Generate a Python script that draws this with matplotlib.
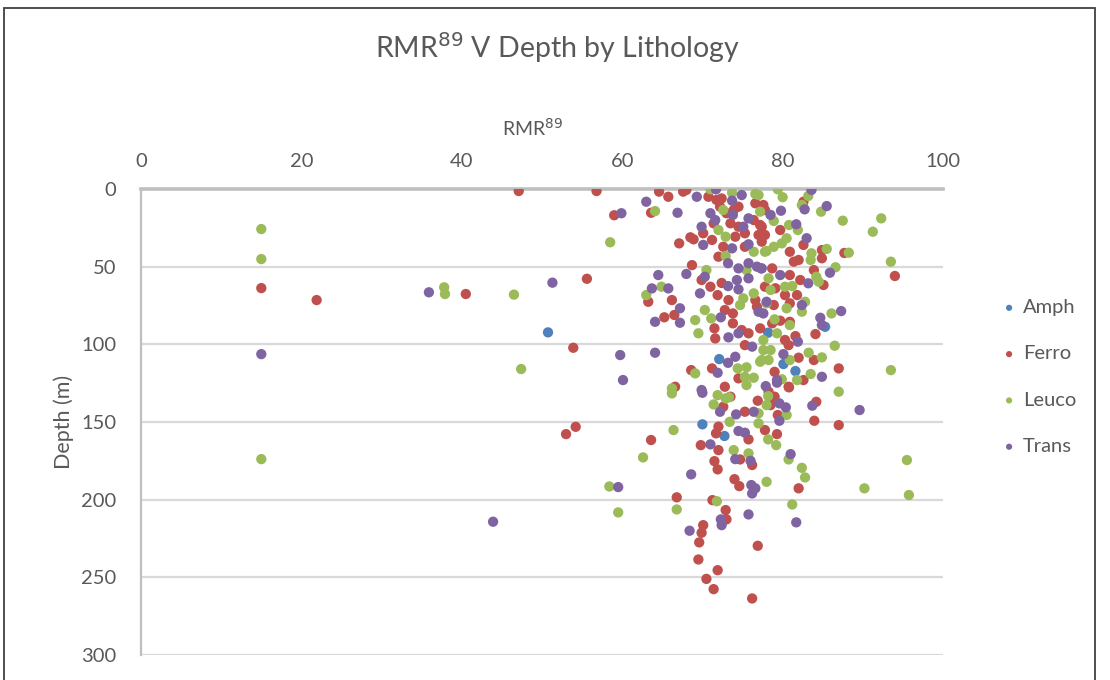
import matplotlib.pyplot as plt
from matplotlib.patches import Rectangle

plt.rcParams['font.family'] = ['Lato', 'DejaVu Sans']

# RMR89 (x) and depth in m (y) per lithology
amph_rmr = [50.75, 72.1, 78.2, 80.1, 81.6, 85.3, 70.0, 72.75]
amph_depth = [92.3, 109.5, 92.5, 112.7, 117.2, 88.7, 151.5, 159]

ferro_rmr = [47.1, 56.8, 59, 55.6, 40.5, 21.9, 15, 53.9, 53, 54.2, 94, 87, 87,
             64.6, 65.75, 67.6, 68, 70.75, 63.6, 67.1, 68.5, 68.9, 70.1, 71.2, 68.7, 69.9, 71,
             72, 72.6, 71.4, 72.2, 73, 74.5, 74.5, 75.3, 75.3, 74.1, 76.6, 77.4, 72.4, 73.5,
             71.75, 73.9, 76.4, 77,
             77.8, 77.2, 77.8, 79.7, 80.9, 82, 81.4, 82.6, 84.9, 84.9, 87.7, 78.7, 80.9, 83.9,
             82.2, 85.1, 82.6, 77.6, 77.4,
             63.25, 66.2, 65.25, 66.5, 71.9, 73.25, 72.8, 73.8, 73.8, 71.5, 71.6, 74.9, 75.75,
             75.3, 76.8, 68.6, 71.2, 74.5, 72.8, 66.6, 72.4, 76.6,
             79.1, 80.3, 78.9, 80.9, 81.8, 78.7, 79.7, 80.9, 77.2, 81.6, 84.1, 80.3, 80.75, 82,
             83.9, 79, 82.6, 80.75, 77.8,
             73.5, 72.6, 76.9, 75.3, 72, 71.7, 75.75, 63.6, 69.8, 72, 71.5, 71.9, 74.7, 76.2,
             74, 74.6, 77.8, 78.25,
             80.8, 79, 78.5, 79.4, 84.2, 83.95, 79.3, 82,
             66.8, 71.25, 72.9, 73, 70.1, 69.9, 69.6, 76.9, 69.5, 71.9, 70.5, 71.4, 76.2]
ferro_depth = [1.3, 1.3, 16.9, 57.8, 67.6, 71.5, 63.8, 102.2, 157.8, 153.1, 56, 115.5, 152,
               1.7, 5, 1.7, 0.6, 5, 15.3, 35, 31.1, 32.4, 28.5, 32.8, 49, 58.6, 62.9,
               43.6, 37.2, 22.1, 11.4, 15.6, 11.4, 24.3, 28.5, 37.2, 30.7, 9.2, 24.3, 6.1, 22.1,
               7, 13.5, 20, 29.6,
               13.5, 23.2, 29.6, 26.4, 40.4, 45.7, 46.8, 36, 44.6, 39.3, 41.2, 51.1, 55.4, 52.2,
               58.6, 61.8, 8.2, 10.3, 33.9,
               72.6, 71.5, 82.6, 81.1, 68.3, 71.5, 77.9, 80.1, 86.5, 89.7, 96.2, 90.8, 92.9,
               100.5, 75.8, 116.6, 115.5, 121.9, 127.3, 127.3, 60.5, 71.5,
               63.9, 68.3, 74.7, 73.6, 68.3, 86.5, 84.8, 85.5, 89.7, 94.7, 93.4, 97.2, 100.5, 108.6,
               110.1, 117.7, 123, 127.3, 62.9,
               133.7, 140.2, 136.3, 143.4, 153, 157.3, 161.2, 161.6, 164.9, 168.1, 175.2, 180.5, 174.1, 177.7,
               186.8, 191.3, 155.2, 130.5,
               127.7, 133.7, 139.1, 145.5, 137, 149.2, 157.8, 192.7,
               198.5, 200.3, 206.7, 212.7, 216.4, 221.3, 227.5, 229.7, 238.5, 245.4, 251, 257.6, 263.6]

leuco_rmr = [15, 15, 15, 37.8, 37.9, 46.5, 58.5, 47.4, 58.4, 59.5, 62.6, 95.5, 90.2, 95.75,
             93.5, 93.5, 92.3, 91.25, 87.5, 88.25,
             64.1, 71, 73.7, 76.6, 72.6, 72, 72.9, 77.2, 76.4, 77.8, 72.9, 75.5, 70.5, 64.9,
             79.4, 80, 83.2, 82.4, 84.8, 78.9, 80.8, 81.9, 80.5, 79.9, 78.9, 78, 83.6, 83.5,
             85.5, 86.6, 84.2, 84.5, 78.25, 81.2, 80.3, 77,
             63, 69.1, 69.5, 70.3, 71.1, 74.7, 76.4, 75.1, 77.6, 77.4, 74.4, 75.5, 75.3, 76.4,
             75.5, 69.1, 66.2, 78,
             78.5, 80.5, 82.8, 82.4, 79, 80.9, 86.1, 79.3, 77.6, 78.5, 86.5, 83.25, 84.9, 80.9,
             78.25, 83.5, 79.9, 81.8, 77.2,
             66.2, 71.9, 72.9, 73.3, 71.4, 73.4, 66.4, 73.9, 75.75, 77, 77, 78, 78,
             78.2, 80.5, 87, 78.2, 79.2, 80.75, 82.4, 82.8,
             66.8, 71.8, 81.2]
leuco_depth = [25.8, 45.1, 173.9, 63.3, 67.6, 68, 34.3, 115.9, 191.5, 208.2, 172.8, 174.5, 192.7, 197,
               116.6, 46.8, 18.9, 27.5, 20.4, 41,
               14.2, 0.2, 2.4, 3.2, 13.5, 26.4, 30.7, 14.6, 40.4, 40.4, 43.1, 52.2, 52.2, 62.9,
               0.2, 5.3, 4.5, 10.3, 14.6, 20.6, 23.2, 26.4, 31.7, 35, 37.2, 39.9, 41.4, 45.7,
               38.6, 50.4, 56.5, 59.7, 57.5, 62.5, 62.9, 3.9,
               68.3, 84.4, 92.9, 77.9, 83.3, 74.7, 67.2, 70.4, 97.2, 110.1, 115.5, 114.8, 120.9, 121.5,
               126.2, 118.7, 128.4, 73.6,
               65, 76.8, 72.6, 79, 83.9, 87.6, 80.1, 92.9, 103.7, 103.7, 100.9, 105.4, 108.4, 110.1,
               110.1, 119.1, 122.5, 123, 111.2,
               131.6, 132.7, 134.8, 134.1, 138.7, 149.9, 155.2, 168.1, 170.2, 144.4, 150.9, 188.5, 139.1,
               133.3, 145.5, 130.5, 161.2, 164.9, 174.1, 179.5, 185.7,
               206.3, 201, 203.1]

trans_rmr = [15, 35.9, 51.3, 59.9, 59.75, 60.1, 59.5, 43.9, 87.3, 89.6,
             63, 69.3, 71.7, 66.9, 71, 71.6, 69.9, 70.1, 73.7, 74.9, 73.8, 75.1, 75.75, 75.75,
             73.7, 73.2, 74.5, 75.75, 76.8, 77.4, 64.5, 68, 70.3, 73.2, 74.3, 75.75, 63.7, 65.75,
             83.6, 79.8, 78.5, 82.75, 85.5, 81.7, 83, 77.3, 79.7, 85.9, 83.2,
             67.2, 64.1, 67.2, 69.7, 74.5, 72.3, 74.5, 73.25, 77, 76.2, 74.1, 73.2, 71.9, 64.1, 69.9,
             78, 82.4, 84.7, 84.9, 77.6, 81.9, 80.1, 84.9, 79.3, 77.9,
             70, 72.2, 74.2, 76.4, 71, 74.5, 75.3, 74.1, 76, 68.6, 76.1,
             79.3, 79.6, 80.4, 83.7, 79.6, 81,
             76.6, 76.2, 68.4, 72.3, 72.4, 75.75, 81.7]
trans_depth = [106.3, 66.5, 60.3, 15.6, 106.9, 123, 191.9, 214.2, 78.6, 142.3,
               8.2, 5, 0.2, 15.3, 15.6, 20, 24.3, 36, 7.5, 3.9, 16.7, 24.3, 18.9, 35.6,
               38.2, 47.8, 51.1, 47.8, 50, 51.1, 55.4, 54.7, 56.5, 62.5, 58.6, 57.5, 64, 64,
               0.6, 14, 16.7, 13.1, 11, 22.7, 31.7, 51.1, 55.4, 53.9, 60.7,
               76.8, 85.5, 86.1, 67.2, 64.6, 82.6, 92.9, 95.5, 79, 101.5, 108, 111.9, 118.3, 105.4, 129.4,
               72.6, 74.7, 82.9, 87.6, 80.1, 98.3, 106.3, 120.9, 123, 126.9,
               131.2, 143.4, 145.1, 143.4, 164.4, 155.8, 156.9, 173.9, 175, 183.7, 190.6,
               124.7, 138, 140.6, 139.5, 149.2, 170.7,
               192.7, 196, 220, 212.7, 216.4, 209.5, 214.6]

series = [('Amph', amph_rmr, amph_depth, '#4F81BD'),
          ('Ferro', ferro_rmr, ferro_depth, '#C0504D'),
          ('Leuco', leuco_rmr, leuco_depth, '#9BBB59'),
          ('Trans', trans_rmr, trans_depth, '#8064A2')]

text_col = '#595959'

fig = plt.figure(figsize=(11.1, 6.8), dpi=100)
ax = fig.add_axes([141 / 1110, 1 - 655 / 680, 802 / 1110, 466 / 680])

for name, xs, ys, col in series:
    ax.scatter(xs, ys, s=55, color=col, edgecolors='none', label=name, zorder=3)

ax.set_xlim(0, 100)
ax.set_ylim(300, 0)
ax.set_xticks(range(0, 101, 20))
ax.set_yticks(range(0, 301, 50))
ax.xaxis.tick_top()
ax.xaxis.set_label_position('top')
ax.tick_params(axis='x', length=0, pad=14, labelsize=14.5, labelcolor=text_col)
ax.tick_params(axis='y', length=0, pad=18, labelsize=14.5, labelcolor=text_col)
ax.grid(axis='y', color='#D9D9D9', linewidth=1.6, zorder=0)
ax.set_axisbelow(True)
for side in ['bottom', 'right']:
    ax.spines[side].set_visible(False)
ax.spines['top'].set_color('#BFBFBF')
ax.spines['top'].set_linewidth(2.6)
ax.spines['left'].set_color('#BFBFBF')
ax.spines['left'].set_linewidth(1.6)

ax.set_xlabel('RMR$^{89}$', fontsize=14, color=text_col, labelpad=12)
ax.xaxis.set_label_coords(0.488, 1.115)
ax.set_ylabel('Depth (m)', fontsize=15.5, color=text_col, labelpad=5)
fig.text(557 / 1110, 1 - 48 / 680, 'RMR$^{89}$ V Depth by Lithology', fontsize=20.5,
         color=text_col, ha='center', va='center')

fig.legend(loc='center left', bbox_to_anchor=(997 / 1110, 1 - 377 / 680), frameon=False,
           fontsize=14.5, labelcolor=text_col, labelspacing=1.45, handletextpad=0.1,
           handlelength=1.2, markerscale=0.6, borderaxespad=0, borderpad=0)

# outer chart border
fig.patches.append(Rectangle((4 / 1110, -0.02), 1091 / 1110, 1 - 8 / 680 + 0.02,
                             transform=fig.transFigure, fill=False,
                             edgecolor='#404040', linewidth=1.3))

fig.savefig('out.png', dpi=100)
